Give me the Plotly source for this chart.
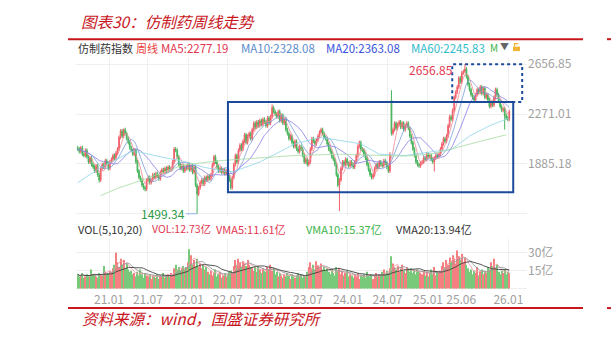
import pandas as pd
import plotly.graph_objects as go

W, H = 611, 340
def px(x):
    return x / W
def py(y):
    return 1 - y / H

# ---------------- data ----------------
start_week = "2020-08-14"
close = [
    2000, 1980, 2010, 1960, 1950,
    1990, 1940, 1900, 1930, 1880, 1860,
    1830, 1870, 1800, 1760,
    1850, 1880, 1860, 1910, 1890, 1850, 1900, 1920,
    1950, 1930, 1970, 2000,
    2090, 2140, 2100, 2150, 2120,
    2080, 2050, 2010, 1990, 1960, 1990,
    1900, 1830, 1780, 1760,
    1720, 1700, 1690, 1760,
    1780, 1740, 1760, 1800, 1780, 1810, 1790, 1770, 1820,
    1840, 1820, 1850, 1830, 1860, 1840, 1850,
    1900, 2000, 1990, 1940, 1880,
    1850, 1870, 1830, 1860, 1850,
    1880, 1840, 1870, 1820, 1860,
    1720, 1650, 1700,
    1740, 1760, 1730, 1780, 1760, 1790, 1770, 1800,
    1880, 1940, 1900,
    1860, 1830, 1850, 1820, 1840, 1810, 1830,
    1800, 1760, 1700,
    1780, 1880, 1950, 1900, 1990, 2030, 2000,
    2060, 2110, 2050, 2100, 2120, 2080,
    2150, 2200, 2170, 2210, 2180, 2220, 2190,
    2230, 2210, 2180, 2240, 2200, 2250,
    2320, 2290, 2270,
    2250, 2290, 2220, 2260, 2200, 2230,
    2150, 2120, 2080, 2100, 2050, 2020, 2060, 2000,
    1980, 2020, 2000,
    1950, 1900, 1920, 1880, 1900,
    2000, 2080, 2060,
    2040, 2070, 2100, 2130,
    2150, 2120, 2090, 2080,
    2040, 2000, 1980, 1940, 1920,
    1880, 1800, 1720, 1760,
    1850, 1900, 1880, 1920, 1890,
    1870, 1900, 1880, 1860, 1900, 1950,
    2020, 2050, 2000,
    1990, 1960, 1930,
    1880, 1840, 1800, 1780, 1800,
    1850, 1880, 1860, 1900, 1880, 1870, 1910, 1890,
    1860, 1830, 1960,
    2120,
    2150, 2200, 2160, 2190, 2210, 2170, 2200, 2150, 2180,
    2200, 2160, 2100, 2050,
    2000, 1950, 1900, 1880, 1870, 1890,
    1900, 1930, 1920, 1960, 1940, 1950, 1920,
    1900, 1930, 1950,
    1940, 1960, 2000,
    2040, 2080, 2060, 2100,
    2180, 2250, 2230,
    2300, 2400, 2440,
    2480, 2550, 2520, 2590,
    2600, 2620, 2560,
    2500, 2460, 2420,
    2400, 2380, 2420,
    2460, 2440, 2480, 2430,
    2470, 2400, 2420,
    2380, 2330, 2360, 2340,
    2400, 2460, 2420,
    2370, 2330, 2300, 2310,
    2260, 2240,
    2230, 2290,
]
first_open = 2010
open_override_idx = [205]
open_override_val = [2380]
high_override_idx = [30, 127, 205, 253]
high_override_val = [2160, 2345, 2455, 2656.85]
low_override_idx = [14, 44, 78, 100, 171, 233, 279]
low_override_val = [1740, 1672, 1499.34, 1685, 1520, 1826, 2150]
wick = 15

volume = [
    12, 10, 11, 13, 9, 10, 12, 11, 10, 16, 12, 11, 10, 9, 13, 12, 11,
    19,
    14, 12, 13, 15, 14, 17, 20,
    30,
    22, 18, 25, 20, 24, 17, 21,
    16, 14, 15, 12, 13, 10, 14, 11, 16, 12, 9, 13, 11, 10, 12, 8, 11, 10,
    9, 12, 8, 11, 10, 13, 9, 11, 12, 10, 13, 12,
    17, 20, 16, 18, 15, 17, 19, 16, 18,
    22, 33, 28, 20,
    24, 19, 25, 18, 21, 17, 20, 16, 18,
    14, 12, 15, 11, 13, 16, 10, 12, 14, 9, 11, 13, 10, 12, 14, 15, 13,
    19, 24, 20, 25, 22, 18, 23, 21, 19, 24, 20, 18,
    17, 15, 18, 14, 19, 16, 13, 17, 15, 14, 18, 16, 20, 15, 17,
    12, 14, 10, 13, 11, 9, 12, 10, 13, 11, 8, 12, 10, 9, 11, 13, 10, 12, 9, 11, 10, 14,
    18, 22, 17, 20, 16, 23, 19, 17, 21, 16, 18, 15, 17,
    14, 12, 16, 13, 11, 18, 15, 17, 12, 14, 11, 13, 15, 10, 12,
    11, 9, 12, 10, 13, 8, 11, 10, 12, 9, 14, 11, 10, 12, 8, 11, 13, 10, 12, 11,
    14, 16, 12, 15, 13, 17, 27,
    21, 18, 16, 19, 14, 17, 20, 15, 13, 18, 16, 14, 17, 13, 15, 12, 16, 14, 13,
    12, 15, 11, 14, 10, 13, 16, 12, 18, 11, 14, 13, 15,
    19, 22, 18, 24, 20, 26, 23, 28, 25, 21, 32, 27, 24, 29, 22, 26, 20,
    17, 14, 16, 12, 15, 13, 18, 11, 14, 16, 12, 15, 13,
    18, 16, 22, 19, 25, 17, 20,
    14, 12, 15, 13, 16, 12, 14, 12.73,
]

# MA60 / MA120 (week index, value)
ma60_idx = [0, 14, 35, 41, 54, 71, 82, 97, 102, 119, 142, 158, 175, 185, 197, 214, 235, 244, 256, 269, 282]
ma60_val = [1740, 1850, 1980, 1975, 1940, 1900, 1860, 1826, 1826, 1900, 2040, 2090, 2060, 2040, 1960, 1950, 1985, 1995, 2100, 2180, 2240]
ma120_idx = [15, 27, 41, 54, 69, 93, 119, 142, 171, 197, 214, 230, 241, 263, 280]
ma120_val = [1640, 1700, 1755, 1810, 1877, 1910, 1930, 1950, 1960, 1950, 1945, 1960, 1990, 2060, 2110]

x_tick_dates = ["2021-01-04", "2021-07-01", "2022-01-04", "2022-07-01", "2023-01-03",
                "2023-07-03", "2024-01-02", "2024-07-01", "2025-01-02", "2025-06-03", "2026-01-05"]
x_tick_text = ["21.01", "21.07", "22.01", "22.07", "23.01", "23.07", "24.01", "24.07", "25.01", "25.06", "26.01"]
price_ticks = [1499.35, 1885.18, 2271.01, 2656.85]
price_tick_text = ["", "1885.18", "2271.01", "2656.85"]
vol_ticks = [0, 15, 30]
vol_tick_text = ["", "15亿", "30亿"]

# ---------------- derived ----------------
n = min(len(close), len(volume))
close = close[:n]
volume = volume[:n]
dates = pd.date_range(start_week, periods=n, freq="W-FRI")
opens = [first_open] + close[:-1]
for i, v in zip(open_override_idx, open_override_val):
    if i < n:
        opens[i] = v
highs = [max(o, c) + wick for o, c in zip(opens, close)]
lows = [min(o, c) - wick for o, c in zip(opens, close)]
for i, v in zip(high_override_idx, high_override_val):
    if i < n:
        highs[i] = v
for i, v in zip(low_override_idx, low_override_val):
    if i < n:
        lows[i] = v

s = pd.Series(close, index=dates)
ma5 = s.rolling(5, min_periods=1).mean()
ma10 = s.rolling(10, min_periods=1).mean()
ma20 = s.rolling(20, min_periods=1).mean()
vs = pd.Series(volume, index=dates)
vma5 = vs.rolling(5, min_periods=1).mean()
vma10 = vs.rolling(10, min_periods=1).mean()
vma20 = vs.rolling(20, min_periods=1).mean()

RED = "#f0606a"
GREEN = "#48b45c"
vol_colors = ["#f47e80" if c >= o else "#78c97a" for o, c in zip(opens, close)]

fig = go.Figure()
fig.add_trace(go.Candlestick(
    x=dates, open=opens, high=highs, low=lows, close=close,
    increasing=dict(line=dict(color=RED, width=1), fillcolor=RED),
    decreasing=dict(line=dict(color=GREEN, width=1), fillcolor=GREEN),
    whiskerwidth=0, xaxis="x", yaxis="y", showlegend=False, hoverinfo="skip"))

def line(x, y, color, xa="x", ya="y", width=1, opacity=0.8):
    fig.add_trace(go.Scatter(x=x, y=y, mode="lines", line=dict(color=color, width=width),
                             opacity=opacity, xaxis=xa, yaxis=ya, showlegend=False, hoverinfo="skip"))

line(dates, ma5, "#f08a96")
line(dates, ma10, "#7f9fdc")
line(dates, ma20, "#8a7fe6")
line([dates[i] for i in ma60_idx if i < n], [v for i, v in zip(ma60_idx, ma60_val) if i < n], "#8fd6ea")
line([dates[i] for i in ma120_idx if i < n], [v for i, v in zip(ma120_idx, ma120_val) if i < n], "#a9dca4")

fig.add_trace(go.Bar(x=dates, y=volume, marker=dict(color=vol_colors, line=dict(width=0)),
                     xaxis="x2", yaxis="y2", showlegend=False, hoverinfo="skip"))
line(dates, vma5, "#f0a0a8", "x2", "y2", opacity=0.9)
line(dates, vma10, "#9a9a9a", "x2", "y2", opacity=0.9)
line(dates, vma20, "#444444", "x2", "y2", opacity=0.9)

# ---------------- layout ----------------
FONT = "Noto Sans CJK SC, Noto Sans, sans-serif"
x_range = ["2020-08-06", "2026-03-31"]
x_dom = [px(76), px(527)]
grid = "#efefef"

fig.update_layout(
    width=W, height=H, margin=dict(l=0, r=0, t=0, b=0),
    paper_bgcolor="white", plot_bgcolor="white",
    font=dict(family=FONT, size=12, color="#999"),
    bargap=0.25, showlegend=False,
    xaxis=dict(domain=x_dom, range=x_range, anchor="y", type="date",
               tickvals=x_tick_dates, showticklabels=False, showgrid=True, gridcolor=grid,
               gridwidth=1, zeroline=False, showline=False, rangeslider=dict(visible=False)),
    xaxis2=dict(domain=x_dom, range=x_range, anchor="y2", type="date", matches="x",
                tickvals=x_tick_dates, ticktext=x_tick_text, showgrid=True, gridcolor=grid,
                zeroline=False, showline=False, ticks="",
                tickfont=dict(size=12, color="#a0a0a0"), rangeslider=dict(visible=False)),
    yaxis=dict(domain=[py(215), py(55)], range=[1481, 2708.2], anchor="x", side="right",
               tickvals=price_ticks, ticktext=price_tick_text, showgrid=True, gridcolor=grid,
               zeroline=False, showline=False, ticks="", tickfont=dict(size=12, color="#a0a0a0")),
    yaxis2=dict(domain=[py(291), py(238)], range=[-2.5, 41.7], anchor="x2", side="right",
                tickvals=vol_ticks, ticktext=vol_tick_text, showgrid=True, gridcolor=grid,
                zeroline=False, showline=False, ticks="", tickfont=dict(size=12, color="#a0a0a0")),
)

shapes = []
# red rules
for y in (36.5, 307.8):
    shapes.append(dict(type="line", xref="paper", yref="paper", x0=px(68), x1=px(583),
                       y0=py(y), y1=py(y), line=dict(color="#c8161d", width=2)))
    shapes.append(dict(type="line", xref="paper", yref="paper", x0=px(607), x1=1,
                       y0=py(y), y1=py(y), line=dict(color="#c8161d", width=2)))
# boxes
shapes.append(dict(type="rect", xref="x", yref="y", x0="2022-07-02", x1="2026-01-27",
                   y0=1665, y1=2363, line=dict(color="#1b4a9a", width=2)))
shapes.append(dict(type="rect", xref="x", yref="y", x0="2025-04-23", x1="2026-03-09",
                   y0=2363, y1=2656.85, line=dict(color="#1b4a9a", width=2, dash="dot")))
# lock icon
shapes.append(dict(type="rect", xref="paper", yref="paper", x0=px(513), x1=px(520),
                   y0=py(48.5), y1=py(44), fillcolor="#f2b233", line=dict(width=0)))
shapes.append(dict(type="path", xref="paper", yref="paper",
                   path=f"M {px(514.5)},{py(44)} L {px(514.5)},{py(41)} L {px(518.5)},{py(41)}",
                   line=dict(color="#f2b233", width=1.3)))
fig.update_layout(shapes=shapes)

ann = []
def txt(x, y, s, color, size=11.5, style="normal", xanchor="left"):
    ann.append(dict(xref="paper", yref="paper", x=px(x), y=py(y), text=s, showarrow=False,
                    xanchor=xanchor, yanchor="middle", borderpad=0,
                    font=dict(family=FONT, size=size, color=color, style=style)))

txt(80, 18, "图表30：仿制药周线走势", "#c8161d", 15.5, "italic")
txt(81, 318, "资料来源：wind，国盛证券研究所", "#c8161d", 15.5, "italic")

txt(77, 45, "仿制药指数", "#333333", 11)
txt(135, 45, "周线", "#e8403c", 11)
txt(160, 45, "MA5:2277.19", "#e2384f")
txt(240, 45, "MA10:2328.08", "#5b8ccc")
txt(325, 45, "MA20:2363.08", "#3a52dc")
txt(410, 45, "MA60:2245.83", "#33bccb")
txt(489, 45, "M", "#3cb44b", 10)
txt(499, 44, "▼", "#666666", 9)

txt(77, 228, "VOL(5,10,20)", "#333333", 11)
txt(151, 228, "VOL:12.73亿", "#e2384f", 10.5)
txt(215, 228, "VMA5:11.61亿", "#e2384f", 11)
txt(305, 228, "VMA10:15.37亿", "#3cb44b", 11)
txt(395, 228, "VMA20:13.94亿", "#333333", 11)

low_i = low_override_idx[low_override_val.index(1499.34)]
ann.append(dict(x=dates[low_i], y=1499.34, xref="x", yref="y", text="1499.34",
                showarrow=True, arrowhead=0, arrowwidth=1, arrowcolor="#8fb4e8",
                ax=-11, ay=0, xanchor="right", yanchor="middle", borderpad=0,
                font=dict(family=FONT, size=12, color="#2e9a48")))
high_i = high_override_idx[high_override_val.index(2656.85)]
ann.append(dict(x=dates[high_i], y=2656.85, xref="x", yref="y", text="2656.85",
                showarrow=False, xanchor="right", yanchor="middle", xshift=-10, yshift=-5,
                font=dict(family=FONT, size=12, color="#e2384f")))
fig.update_layout(annotations=ann)

fig.write_html("out.html")
